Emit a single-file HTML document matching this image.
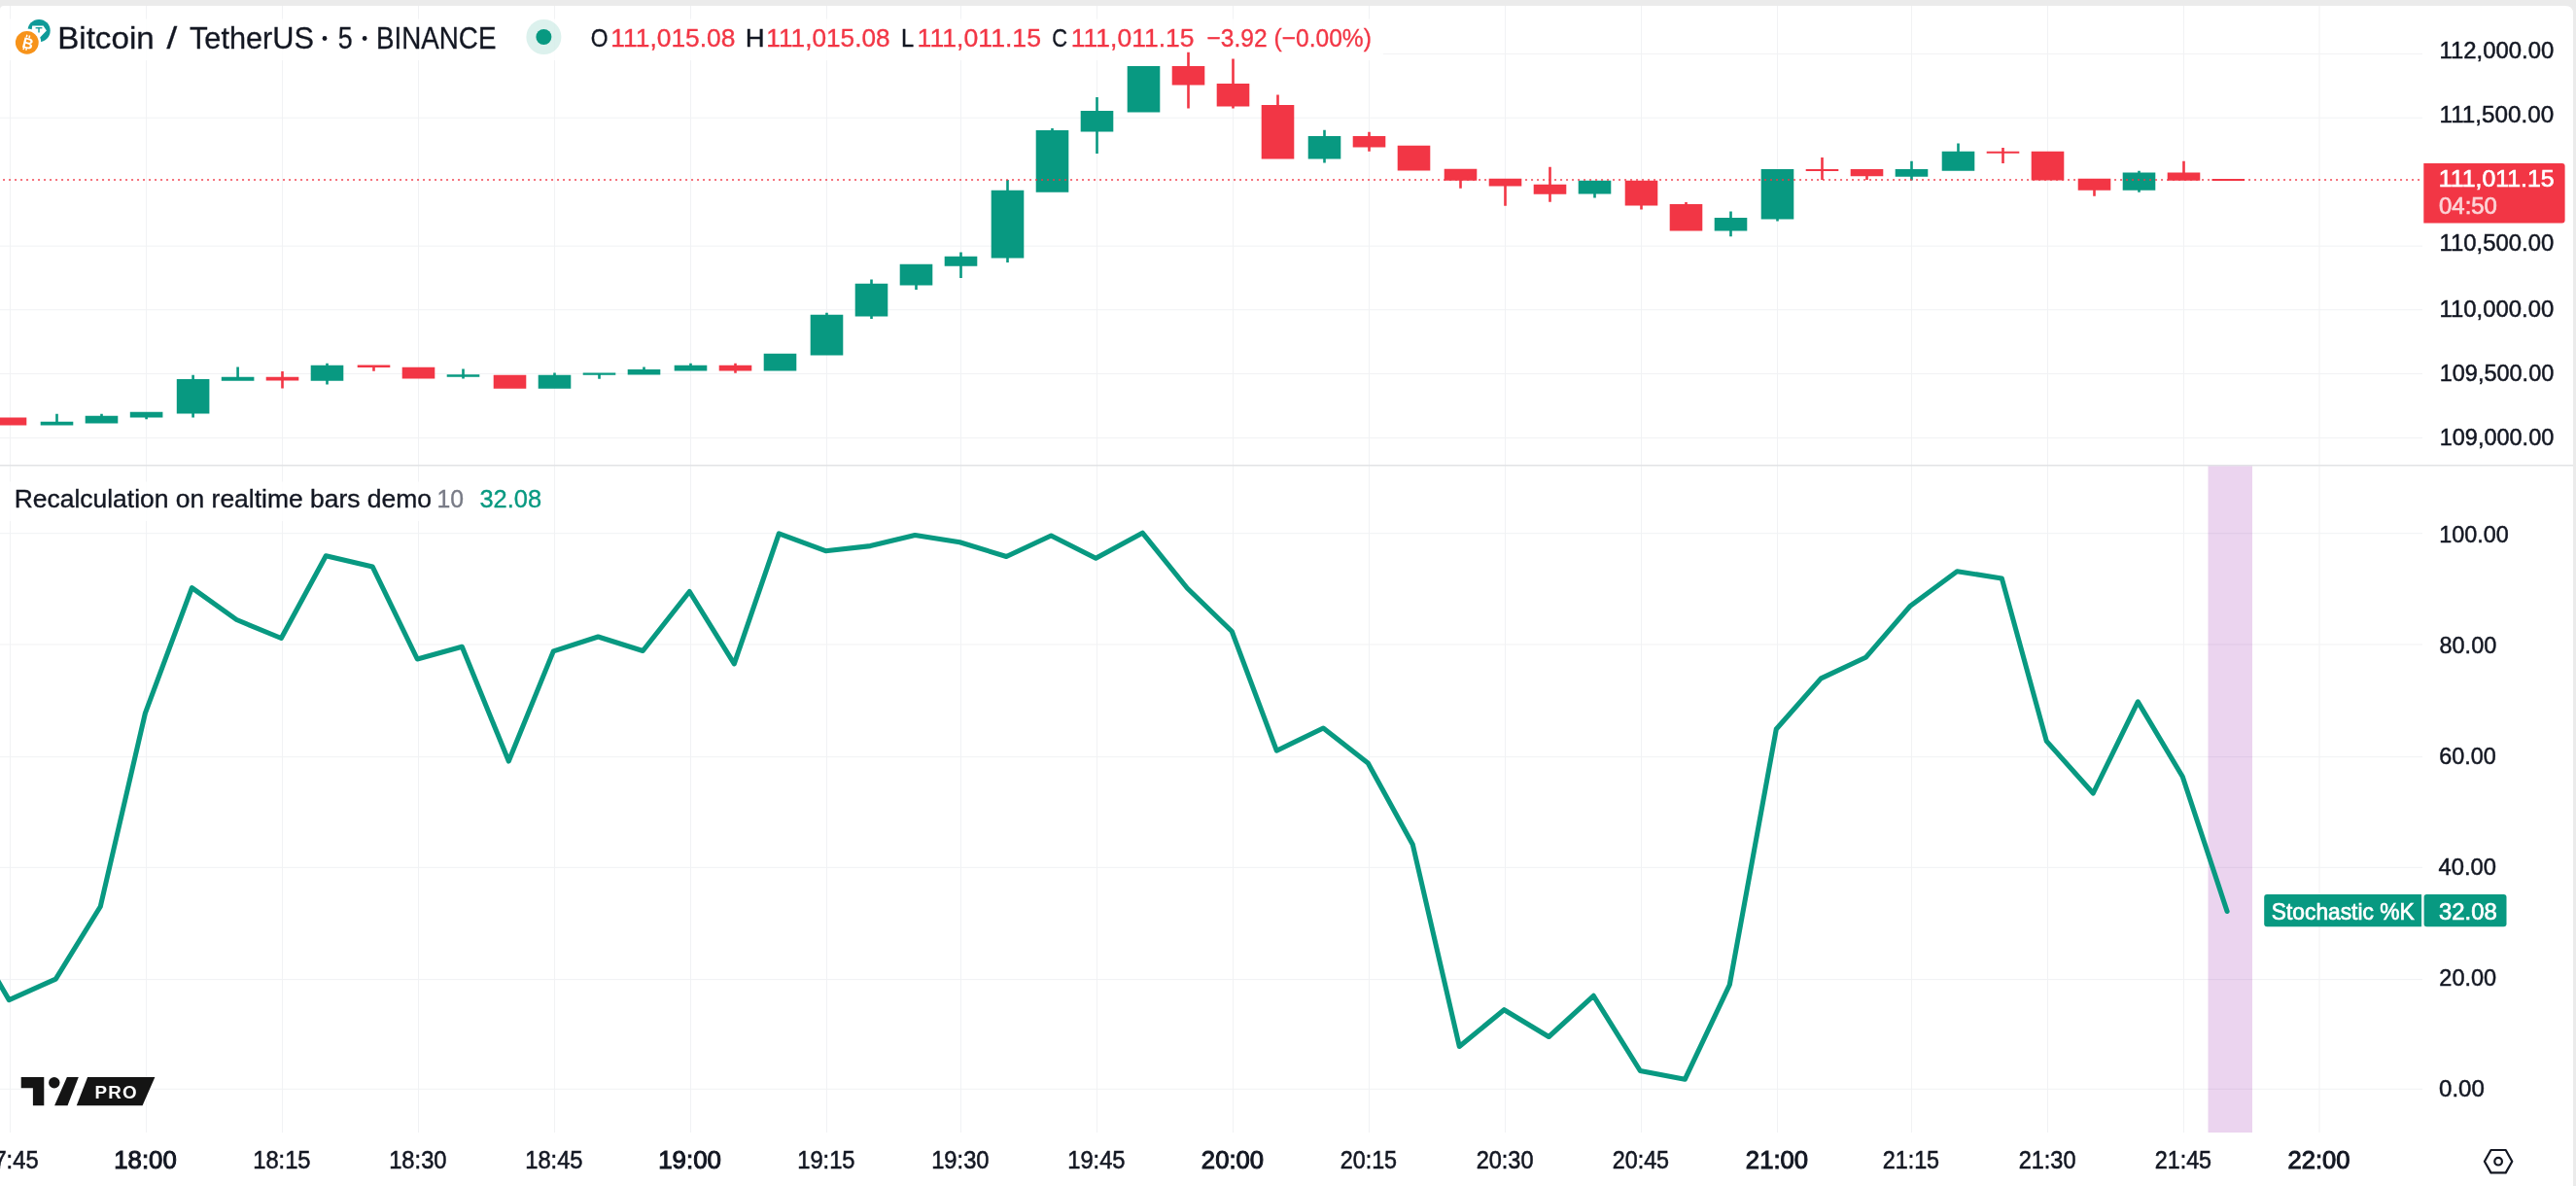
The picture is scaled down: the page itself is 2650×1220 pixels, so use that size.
<!DOCTYPE html>
<html><head><meta charset="utf-8"><title>BTCUSDT chart</title><style>
html,body{margin:0;padding:0;width:2650px;height:1220px;overflow:hidden;background:#EBEBEB;font-family:"Liberation Sans",sans-serif}
</style></head><body>
<svg width="2650" height="1220" viewBox="0 0 2650 1220" style="position:absolute;left:0;top:0;display:block;will-change:transform"><rect x="0" y="0" width="2650" height="1220" fill="#EBEBEB"/><path d="M0,10 Q0,6 4,6 L2639,6 Q2647,6 2647,14 L2647,1220 L0,1220 Z" fill="#FFFFFF"/><rect x="10.00" y="6" width="1" height="1159" fill="#F1F2F4"/><rect x="150.10" y="6" width="1" height="1159" fill="#F1F2F4"/><rect x="290.00" y="6" width="1" height="1159" fill="#F1F2F4"/><rect x="430.00" y="6" width="1" height="1159" fill="#F1F2F4"/><rect x="570.00" y="6" width="1" height="1159" fill="#F1F2F4"/><rect x="710.00" y="6" width="1" height="1159" fill="#F1F2F4"/><rect x="850.00" y="6" width="1" height="1159" fill="#F1F2F4"/><rect x="988.00" y="6" width="1" height="1159" fill="#F1F2F4"/><rect x="1128.00" y="6" width="1" height="1159" fill="#F1F2F4"/><rect x="1268.00" y="6" width="1" height="1159" fill="#F1F2F4"/><rect x="1408.00" y="6" width="1" height="1159" fill="#F1F2F4"/><rect x="1548.00" y="6" width="1" height="1159" fill="#F1F2F4"/><rect x="1688.00" y="6" width="1" height="1159" fill="#F1F2F4"/><rect x="1828.00" y="6" width="1" height="1159" fill="#F1F2F4"/><rect x="1966.00" y="6" width="1" height="1159" fill="#F1F2F4"/><rect x="2106.00" y="6" width="1" height="1159" fill="#F1F2F4"/><rect x="2246.00" y="6" width="1" height="1159" fill="#F1F2F4"/><rect x="2385.50" y="6" width="1" height="1159" fill="#F1F2F4"/><rect x="1420" y="54.90" width="1072" height="1" fill="#F1F2F4"/><rect x="0" y="120.70" width="2492" height="1" fill="#F1F2F4"/><rect x="0" y="252.60" width="2492" height="1" fill="#F1F2F4"/><rect x="0" y="318.20" width="2492" height="1" fill="#F1F2F4"/><rect x="0" y="384.00" width="2492" height="1" fill="#F1F2F4"/><rect x="0" y="449.90" width="2492" height="1" fill="#F1F2F4"/><rect x="0" y="548.20" width="2492" height="1" fill="#F1F2F4"/><rect x="0" y="662.50" width="2492" height="1" fill="#F1F2F4"/><rect x="0" y="778.10" width="2492" height="1" fill="#F1F2F4"/><rect x="0" y="891.80" width="2492" height="1" fill="#F1F2F4"/><rect x="0" y="1007.10" width="2492" height="1" fill="#F1F2F4"/><rect x="0" y="1119.80" width="2492" height="1" fill="#F1F2F4"/><rect x="0" y="19.5" width="1423" height="42.5" fill="#FFFFFF" fill-opacity="0.85"/><rect x="0" y="495.5" width="570" height="40.5" fill="#FFFFFF" fill-opacity="0.85"/><rect x="0" y="478" width="2647" height="1.5" fill="#E2E3E6"/><rect x="2271.5" y="479.5" width="45.5" height="685.5" fill="#9C27B0" fill-opacity="0.2"/><path d="M-6.30,429.50h33.6v8.00h-33.6Z" fill="#F23645"/><path d="M41.70,433.75h33.6v3.75h-33.6ZM57.20,425.75h2.6V433.75h-2.6Z" fill="#089981"/><path d="M87.70,427.75h33.6v7.75h-33.6ZM103.20,425.75h2.6V427.75h-2.6Z" fill="#089981"/><path d="M133.80,423.75h33.6v5.75h-33.6ZM149.30,429.50h2.6V431.25h-2.6Z" fill="#089981"/><path d="M181.80,390.00h33.6v35.50h-33.6ZM197.30,385.75h2.6V390.00h-2.6ZM197.30,425.50h2.6V429.50h-2.6Z" fill="#089981"/><path d="M227.80,387.75h33.6v4.00h-33.6ZM243.30,377.50h2.6V387.75h-2.6Z" fill="#089981"/><path d="M273.70,387.75h33.6v3.75h-33.6ZM289.20,382.00h2.6V387.75h-2.6ZM289.20,391.50h2.6V399.50h-2.6Z" fill="#F23645"/><path d="M319.70,375.75h33.6v16.00h-33.6ZM335.20,373.75h2.6V375.75h-2.6ZM335.20,391.75h2.6V395.50h-2.6Z" fill="#089981"/><path d="M367.70,375.50h33.6v2.50h-33.6ZM383.20,378.00h2.6V381.75h-2.6Z" fill="#F23645"/><path d="M413.70,377.75h33.6v11.75h-33.6Z" fill="#F23645"/><path d="M459.70,385.25h33.6v2.50h-33.6ZM475.20,379.50h2.6V385.25h-2.6ZM475.20,387.75h2.6V389.50h-2.6Z" fill="#089981"/><path d="M507.70,385.75h33.6v14.00h-33.6Z" fill="#F23645"/><path d="M553.70,385.75h33.6v14.00h-33.6ZM569.20,383.50h2.6V385.75h-2.6Z" fill="#089981"/><path d="M599.70,383.60h33.6v2.20h-33.6ZM615.20,385.80h2.6V389.70h-2.6Z" fill="#089981"/><path d="M645.70,380.00h33.6v5.50h-33.6ZM661.20,377.50h2.6V380.00h-2.6Z" fill="#089981"/><path d="M693.70,375.75h33.6v5.75h-33.6ZM709.20,373.75h2.6V375.75h-2.6Z" fill="#089981"/><path d="M739.70,375.75h33.6v5.75h-33.6ZM755.20,373.75h2.6V375.75h-2.6ZM755.20,381.50h2.6V383.75h-2.6Z" fill="#F23645"/><path d="M785.70,363.75h33.6v17.75h-33.6Z" fill="#089981"/><path d="M833.70,323.75h33.6v41.75h-33.6ZM849.20,321.75h2.6V323.75h-2.6Z" fill="#089981"/><path d="M879.70,291.75h33.6v33.75h-33.6ZM895.20,287.50h2.6V291.75h-2.6ZM895.20,325.50h2.6V328.00h-2.6Z" fill="#089981"/><path d="M925.70,271.75h33.6v21.75h-33.6ZM941.20,293.50h2.6V298.00h-2.6Z" fill="#089981"/><path d="M971.70,263.75h33.6v10.00h-33.6ZM987.20,259.50h2.6V263.75h-2.6ZM987.20,273.75h2.6V286.00h-2.6Z" fill="#089981"/><path d="M1019.70,195.75h33.6v69.75h-33.6ZM1035.20,185.00h2.6V195.75h-2.6ZM1035.20,265.50h2.6V270.00h-2.6Z" fill="#089981"/><path d="M1065.70,134.00h33.6v63.75h-33.6ZM1081.20,132.00h2.6V134.00h-2.6Z" fill="#089981"/><path d="M1111.70,114.00h33.6v21.50h-33.6ZM1127.20,100.00h2.6V114.00h-2.6ZM1127.20,135.50h2.6V158.00h-2.6Z" fill="#089981"/><path d="M1159.70,68.00h33.6v47.50h-33.6Z" fill="#089981"/><path d="M1205.70,68.00h33.6v19.50h-33.6ZM1221.20,53.75h2.6V68.00h-2.6ZM1221.20,87.50h2.6V111.50h-2.6Z" fill="#F23645"/><path d="M1251.70,86.00h33.6v23.50h-33.6ZM1267.20,60.50h2.6V86.00h-2.6ZM1267.20,109.50h2.6V111.50h-2.6Z" fill="#F23645"/><path d="M1297.70,108.00h33.6v55.50h-33.6ZM1313.20,97.50h2.6V108.00h-2.6Z" fill="#F23645"/><path d="M1345.70,140.00h33.6v23.50h-33.6ZM1361.20,133.75h2.6V140.00h-2.6ZM1361.20,163.50h2.6V167.50h-2.6Z" fill="#089981"/><path d="M1391.70,140.00h33.6v11.50h-33.6ZM1407.20,135.75h2.6V140.00h-2.6ZM1407.20,151.50h2.6V155.75h-2.6Z" fill="#F23645"/><path d="M1437.70,149.75h33.6v25.75h-33.6Z" fill="#F23645"/><path d="M1485.70,173.75h33.6v12.00h-33.6ZM1501.20,185.75h2.6V193.75h-2.6Z" fill="#F23645"/><path d="M1531.70,183.75h33.6v7.75h-33.6ZM1547.20,191.50h2.6V211.75h-2.6Z" fill="#F23645"/><path d="M1577.70,189.75h33.6v10.00h-33.6ZM1593.20,171.75h2.6V189.75h-2.6ZM1593.20,199.75h2.6V207.75h-2.6Z" fill="#F23645"/><path d="M1623.70,185.75h33.6v13.75h-33.6ZM1639.20,199.50h2.6V203.50h-2.6Z" fill="#089981"/><path d="M1671.70,185.75h33.6v25.75h-33.6ZM1687.20,211.50h2.6V215.50h-2.6Z" fill="#F23645"/><path d="M1717.70,210.00h33.6v27.50h-33.6ZM1733.20,208.00h2.6V210.00h-2.6Z" fill="#F23645"/><path d="M1763.70,224.00h33.6v13.50h-33.6ZM1779.20,217.50h2.6V224.00h-2.6ZM1779.20,237.50h2.6V243.25h-2.6Z" fill="#089981"/><path d="M1811.70,174.00h33.6v51.50h-33.6ZM1827.20,225.50h2.6V227.50h-2.6Z" fill="#089981"/><path d="M1857.70,174.00h33.6v2.00h-33.6ZM1873.20,162.00h2.6V174.00h-2.6ZM1873.20,176.00h2.6V185.00h-2.6Z" fill="#F23645"/><path d="M1903.70,174.00h33.6v7.25h-33.6ZM1919.20,181.25h2.6V185.00h-2.6Z" fill="#F23645"/><path d="M1949.70,174.00h33.6v7.75h-33.6ZM1965.20,165.75h2.6V174.00h-2.6ZM1965.20,181.75h2.6V185.50h-2.6Z" fill="#089981"/><path d="M1997.70,155.75h33.6v20.00h-33.6ZM2013.20,147.50h2.6V155.75h-2.6Z" fill="#089981"/><path d="M2043.70,155.75h33.6v2.00h-33.6ZM2059.20,152.00h2.6V155.75h-2.6ZM2059.20,157.75h2.6V168.00h-2.6Z" fill="#F23645"/><path d="M2089.70,155.75h33.6v29.75h-33.6Z" fill="#F23645"/><path d="M2137.70,183.75h33.6v12.00h-33.6ZM2153.20,195.75h2.6V201.75h-2.6Z" fill="#F23645"/><path d="M2183.70,177.50h33.6v18.25h-33.6ZM2199.20,175.75h2.6V177.50h-2.6ZM2199.20,195.75h2.6V197.75h-2.6Z" fill="#089981"/><path d="M2229.70,177.50h33.6v8.25h-33.6ZM2245.20,165.70h2.6V177.50h-2.6Z" fill="#F23645"/><path d="M2275.50,184.00h33.6v2.00h-33.6Z" fill="#F23645"/><line x1="0" y1="185" x2="2492" y2="185" stroke="#F23645" stroke-opacity="0.7" stroke-width="2" stroke-dasharray="2 4" stroke-dashoffset="2.95"/><polyline points="-37.3,948.6 9.3,1028.6 57.3,1007.1 103.3,932.5 149.4,733.6 197.4,604.6 243.4,637.5 289.3,656.5 335.3,571.7 383.3,583.1 429.3,678.0 475.3,665.3 523.3,783.0 569.3,669.9 615.3,655.0 661.3,669.5 709.3,608.5 755.3,682.8 801.3,548.9 849.3,566.7 895.3,561.6 941.3,550.5 987.3,557.8 1035.3,572.5 1081.3,551.0 1127.3,574.3 1175.3,548.2 1221.3,605.0 1267.3,649.5 1313.3,772.2 1361.3,749.0 1407.3,784.9 1453.3,868.8 1501.3,1076.5 1547.3,1038.7 1593.3,1066.5 1639.3,1024.3 1687.3,1101.5 1733.3,1110.3 1779.3,1013.0 1827.3,750.0 1873.3,697.9 1919.3,676.3 1965.3,623.2 2013.3,587.8 2059.3,594.9 2105.3,762.4 2153.3,816.0 2199.3,721.9 2245.3,799.0 2291.1,937.5" fill="none" stroke="#089981" stroke-width="5.1" stroke-linejoin="round" stroke-linecap="round"/><circle cx="40.1" cy="31.5" r="11.6" fill="#0E9A98"/><path d="M33.2,26.6 H44.6 L47.9,31.4 L40.2,39.5 L32.5,31.4 Z" fill="#FFFFFF"/><rect x="36.6" y="28.1" width="6.8" height="1.3" fill="#0E9A98"/><rect x="39.3" y="28.5" width="1.4" height="5" fill="#0E9A98"/><circle cx="27.8" cy="43.8" r="14.4" fill="#FFFFFF"/><circle cx="27.8" cy="43.8" r="11.9" fill="#F7931A"/><g transform="rotate(14 27.8 43.8)"><text x="23.3" y="49.8" font-family="Liberation Sans, sans-serif" font-size="15.5" font-weight="bold" fill="#FFFFFF">B</text><rect x="25.2" y="36.0" width="1.5" height="2.6" fill="#FFFFFF"/><rect x="28.0" y="36.0" width="1.5" height="2.6" fill="#FFFFFF"/><rect x="25.2" y="49.2" width="1.5" height="2.6" fill="#FFFFFF"/><rect x="28.0" y="49.2" width="1.5" height="2.6" fill="#FFFFFF"/></g><circle cx="559.4" cy="38" r="18" fill="#089981" fill-opacity="0.14"/><circle cx="559.4" cy="38" r="8" fill="#089981"/><circle cx="334.0" cy="39.5" r="2.4" fill="#131722"/><circle cx="375.15" cy="39.5" r="2.4" fill="#131722"/><path d="M2493.3,168 H2635.6 Q2638.6,168 2638.6,171 V226.5 Q2638.6,229.5 2635.6,229.5 H2493.3 Z" fill="#F23645"/><rect x="2329.2" y="919.9" width="164" height="33.4" rx="3" fill="#089981"/><rect x="2493.5" y="919.9" width="85" height="33.4" rx="3" fill="#089981"/><rect x="2491" y="919.9" width="2.5" height="33.4" fill="#E6F4F1"/><text x="59.15" y="50" font-family="Liberation Sans, sans-serif" font-size="31.5" font-weight="normal" fill="#131722" stroke="#131722" stroke-width="0.3" textLength="99.57" lengthAdjust="spacingAndGlyphs">Bitcoin</text><text x="171.62" y="50" font-family="Liberation Sans, sans-serif" font-size="31.5" font-weight="normal" fill="#131722" stroke="#131722" stroke-width="0.3" textLength="10.72" lengthAdjust="spacingAndGlyphs">/</text><text x="195.00" y="50" font-family="Liberation Sans, sans-serif" font-size="31.5" font-weight="normal" fill="#131722" stroke="#131722" stroke-width="0.3" textLength="127.94" lengthAdjust="spacingAndGlyphs">TetherUS</text><text x="347.79" y="50" font-family="Liberation Sans, sans-serif" font-size="31.5" font-weight="normal" fill="#131722" stroke="#131722" stroke-width="0.3" textLength="14.93" lengthAdjust="spacingAndGlyphs">5</text><text x="387.06" y="50" font-family="Liberation Sans, sans-serif" font-size="31.5" font-weight="normal" fill="#131722" stroke="#131722" stroke-width="0.3" textLength="123.37" lengthAdjust="spacingAndGlyphs">BINANCE</text><text x="607.81" y="47.5" font-family="Liberation Sans, sans-serif" font-size="26.5" font-weight="normal" fill="#131722" stroke="#131722" stroke-width="0.35" textLength="17.74" lengthAdjust="spacingAndGlyphs">O</text><text x="628.34" y="47.5" font-family="Liberation Sans, sans-serif" font-size="26.5" font-weight="normal" fill="#F23645" stroke="#F23645" stroke-width="0.35" textLength="128.10" lengthAdjust="spacingAndGlyphs">111,015.08</text><text x="766.83" y="47.5" font-family="Liberation Sans, sans-serif" font-size="26.5" font-weight="normal" fill="#131722" stroke="#131722" stroke-width="0.35" textLength="19.95" lengthAdjust="spacingAndGlyphs">H</text><text x="788.36" y="47.5" font-family="Liberation Sans, sans-serif" font-size="26.5" font-weight="normal" fill="#F23645" stroke="#F23645" stroke-width="0.35" textLength="127.19" lengthAdjust="spacingAndGlyphs">111,015.08</text><text x="927.06" y="47.5" font-family="Liberation Sans, sans-serif" font-size="26.5" font-weight="normal" fill="#131722" stroke="#131722" stroke-width="0.35" textLength="13.18" lengthAdjust="spacingAndGlyphs">L</text><text x="943.58" y="47.5" font-family="Liberation Sans, sans-serif" font-size="26.5" font-weight="normal" fill="#F23645" stroke="#F23645" stroke-width="0.35" textLength="127.41" lengthAdjust="spacingAndGlyphs">111,011.15</text><text x="1082.32" y="47.5" font-family="Liberation Sans, sans-serif" font-size="26.5" font-weight="normal" fill="#131722" stroke="#131722" stroke-width="0.35" textLength="15.79" lengthAdjust="spacingAndGlyphs">C</text><text x="1101.85" y="47.5" font-family="Liberation Sans, sans-serif" font-size="26.5" font-weight="normal" fill="#F23645" stroke="#F23645" stroke-width="0.35" textLength="126.62" lengthAdjust="spacingAndGlyphs">111,011.15</text><text x="1241.53" y="47.5" font-family="Liberation Sans, sans-serif" font-size="26.5" font-weight="normal" fill="#F23645" stroke="#F23645" stroke-width="0.35" textLength="169.32" lengthAdjust="spacingAndGlyphs">−3.92 (−0.00%)</text><text x="2509.55" y="59.9" font-family="Liberation Sans, sans-serif" font-size="24.8" font-weight="normal" fill="#131722" stroke="#131722" stroke-width="0.5" textLength="117.66" lengthAdjust="spacingAndGlyphs">112,000.00</text><text x="2509.47" y="125.80000000000001" font-family="Liberation Sans, sans-serif" font-size="24.8" font-weight="normal" fill="#131722" stroke="#131722" stroke-width="0.5" textLength="117.71" lengthAdjust="spacingAndGlyphs">111,500.00</text><text x="2509.55" y="257.9" font-family="Liberation Sans, sans-serif" font-size="24.8" font-weight="normal" fill="#131722" stroke="#131722" stroke-width="0.5" textLength="117.66" lengthAdjust="spacingAndGlyphs">110,500.00</text><text x="2509.55" y="325.59999999999997" font-family="Liberation Sans, sans-serif" font-size="24.8" font-weight="normal" fill="#131722" stroke="#131722" stroke-width="0.5" textLength="117.66" lengthAdjust="spacingAndGlyphs">110,000.00</text><text x="2509.75" y="391.7" font-family="Liberation Sans, sans-serif" font-size="24.8" font-weight="normal" fill="#131722" stroke="#131722" stroke-width="0.5" textLength="117.51" lengthAdjust="spacingAndGlyphs">109,500.00</text><text x="2509.75" y="457.59999999999997" font-family="Liberation Sans, sans-serif" font-size="24.8" font-weight="normal" fill="#131722" stroke="#131722" stroke-width="0.5" textLength="117.51" lengthAdjust="spacingAndGlyphs">109,000.00</text><text x="2508.75" y="191.7" font-family="Liberation Sans, sans-serif" font-size="24.8" font-weight="normal" fill="#FFFFFF" stroke="#FFFFFF" stroke-width="0.7" textLength="118.82" lengthAdjust="spacingAndGlyphs">111,011.15</text><g opacity="0.78"><text x="2509.08" y="219.7" font-family="Liberation Sans, sans-serif" font-size="24.8" font-weight="normal" fill="#FFFFFF" stroke="#FFFFFF" stroke-width="0.7" textLength="59.75" lengthAdjust="spacingAndGlyphs">04:50</text></g><text x="14.66" y="522" font-family="Liberation Sans, sans-serif" font-size="25.5" font-weight="normal" fill="#131722" stroke="#131722" stroke-width="0.35" textLength="429.32" lengthAdjust="spacingAndGlyphs">Recalculation on realtime bars demo</text><text x="449.47" y="522" font-family="Liberation Sans, sans-serif" font-size="25.5" font-weight="normal" fill="#787B86" stroke="#787B86" stroke-width="0.35" textLength="27.51" lengthAdjust="spacingAndGlyphs">10</text><text x="493.47" y="522" font-family="Liberation Sans, sans-serif" font-size="25.5" font-weight="normal" fill="#089981" stroke="#089981" stroke-width="0.35" textLength="63.60" lengthAdjust="spacingAndGlyphs">32.08</text><text x="2509.18" y="557.6999999999999" font-family="Liberation Sans, sans-serif" font-size="24.8" font-weight="normal" fill="#131722" stroke="#131722" stroke-width="0.5" textLength="71.45" lengthAdjust="spacingAndGlyphs">100.00</text><text x="2509.55" y="671.5" font-family="Liberation Sans, sans-serif" font-size="24.8" font-weight="normal" fill="#131722" stroke="#131722" stroke-width="0.5" textLength="58.67" lengthAdjust="spacingAndGlyphs">80.00</text><text x="2509.30" y="785.8" font-family="Liberation Sans, sans-serif" font-size="24.8" font-weight="normal" fill="#131722" stroke="#131722" stroke-width="0.5" textLength="58.55" lengthAdjust="spacingAndGlyphs">60.00</text><text x="2508.61" y="900.1999999999999" font-family="Liberation Sans, sans-serif" font-size="24.8" font-weight="normal" fill="#131722" stroke="#131722" stroke-width="0.5" textLength="59.42" lengthAdjust="spacingAndGlyphs">40.00</text><text x="2509.36" y="1014.0999999999999" font-family="Liberation Sans, sans-serif" font-size="24.8" font-weight="normal" fill="#131722" stroke="#131722" stroke-width="0.5" textLength="58.83" lengthAdjust="spacingAndGlyphs">20.00</text><text x="2509.03" y="1127.8" font-family="Liberation Sans, sans-serif" font-size="24.8" font-weight="normal" fill="#131722" stroke="#131722" stroke-width="0.5" textLength="46.84" lengthAdjust="spacingAndGlyphs">0.00</text><text x="2336.81" y="945.5" font-family="Liberation Sans, sans-serif" font-size="24" font-weight="normal" fill="#FFFFFF" stroke="#FFFFFF" stroke-width="0.7" textLength="146.88" lengthAdjust="spacingAndGlyphs">Stochastic %K</text><text x="2509.00" y="945.5" font-family="Liberation Sans, sans-serif" font-size="24" font-weight="normal" fill="#FFFFFF" stroke="#FFFFFF" stroke-width="0.7" textLength="59.79" lengthAdjust="spacingAndGlyphs">32.08</text><text x="117.31" y="1201.8" font-family="Liberation Sans, sans-serif" font-size="25.5" font-weight="normal" fill="#131722" stroke="#131722" stroke-width="1.0" textLength="64.39" lengthAdjust="spacingAndGlyphs">18:00</text><text x="260.20" y="1201.8" font-family="Liberation Sans, sans-serif" font-size="25.5" font-weight="normal" fill="#131722" stroke="#131722" stroke-width="0.55" textLength="59.38" lengthAdjust="spacingAndGlyphs">18:15</text><text x="400.20" y="1201.8" font-family="Liberation Sans, sans-serif" font-size="25.5" font-weight="normal" fill="#131722" stroke="#131722" stroke-width="0.55" textLength="59.33" lengthAdjust="spacingAndGlyphs">18:30</text><text x="540.20" y="1201.8" font-family="Liberation Sans, sans-serif" font-size="25.5" font-weight="normal" fill="#131722" stroke="#131722" stroke-width="0.55" textLength="59.38" lengthAdjust="spacingAndGlyphs">18:45</text><text x="677.22" y="1201.8" font-family="Liberation Sans, sans-serif" font-size="25.5" font-weight="normal" fill="#131722" stroke="#131722" stroke-width="1.0" textLength="64.78" lengthAdjust="spacingAndGlyphs">19:00</text><text x="820.20" y="1201.8" font-family="Liberation Sans, sans-serif" font-size="25.5" font-weight="normal" fill="#131722" stroke="#131722" stroke-width="0.55" textLength="59.38" lengthAdjust="spacingAndGlyphs">19:15</text><text x="958.20" y="1201.8" font-family="Liberation Sans, sans-serif" font-size="25.5" font-weight="normal" fill="#131722" stroke="#131722" stroke-width="0.55" textLength="59.33" lengthAdjust="spacingAndGlyphs">19:30</text><text x="1098.20" y="1201.8" font-family="Liberation Sans, sans-serif" font-size="25.5" font-weight="normal" fill="#131722" stroke="#131722" stroke-width="0.55" textLength="59.38" lengthAdjust="spacingAndGlyphs">19:45</text><text x="1235.89" y="1201.8" font-family="Liberation Sans, sans-serif" font-size="25.5" font-weight="normal" fill="#131722" stroke="#131722" stroke-width="1.0" textLength="64.15" lengthAdjust="spacingAndGlyphs">20:00</text><text x="1378.70" y="1201.8" font-family="Liberation Sans, sans-serif" font-size="25.5" font-weight="normal" fill="#131722" stroke="#131722" stroke-width="0.55" textLength="58.42" lengthAdjust="spacingAndGlyphs">20:15</text><text x="1518.70" y="1201.8" font-family="Liberation Sans, sans-serif" font-size="25.5" font-weight="normal" fill="#131722" stroke="#131722" stroke-width="0.55" textLength="58.84" lengthAdjust="spacingAndGlyphs">20:30</text><text x="1658.70" y="1201.8" font-family="Liberation Sans, sans-serif" font-size="25.5" font-weight="normal" fill="#131722" stroke="#131722" stroke-width="0.55" textLength="58.42" lengthAdjust="spacingAndGlyphs">20:45</text><text x="1795.89" y="1201.8" font-family="Liberation Sans, sans-serif" font-size="25.5" font-weight="normal" fill="#131722" stroke="#131722" stroke-width="1.0" textLength="64.15" lengthAdjust="spacingAndGlyphs">21:00</text><text x="1936.70" y="1201.8" font-family="Liberation Sans, sans-serif" font-size="25.5" font-weight="normal" fill="#131722" stroke="#131722" stroke-width="0.55" textLength="58.42" lengthAdjust="spacingAndGlyphs">21:15</text><text x="2076.70" y="1201.8" font-family="Liberation Sans, sans-serif" font-size="25.5" font-weight="normal" fill="#131722" stroke="#131722" stroke-width="0.55" textLength="58.84" lengthAdjust="spacingAndGlyphs">21:30</text><text x="2216.70" y="1201.8" font-family="Liberation Sans, sans-serif" font-size="25.5" font-weight="normal" fill="#131722" stroke="#131722" stroke-width="0.55" textLength="58.42" lengthAdjust="spacingAndGlyphs">21:45</text><text x="2353.47" y="1201.8" font-family="Liberation Sans, sans-serif" font-size="25.5" font-weight="normal" fill="#131722" stroke="#131722" stroke-width="1.0" textLength="63.94" lengthAdjust="spacingAndGlyphs">22:00</text><text x="-19.80" y="1201.8" font-family="Liberation Sans, sans-serif" font-size="25.5" fill="#131722" stroke="#131722" stroke-width="0.55" textLength="59.38" lengthAdjust="spacingAndGlyphs">17:45</text><path d="M21.7,1107.9 H45.3 V1137.3 H33.9 V1119.2 H21.7 Z" fill="#141414"/><circle cx="55.8" cy="1113.7" r="5.7" fill="#141414"/><path d="M68.9,1107.9 H80.8 L69.5,1137.3 H56.1 Z" fill="#141414"/><path d="M90.1,1107.9 H159.4 L146.6,1137.3 H78.8 Z" fill="#141414"/><text x="97.6" y="1129.7" font-family="Liberation Sans, sans-serif" font-size="18.8" font-weight="bold" fill="#FFFFFF" textLength="43" lengthAdjust="spacing">PRO</text><path d="M2562.5,1183 H2577.7 L2584.3,1194.7 L2577.7,1206.4 H2562.5 L2555.9,1194.7 Z" fill="none" stroke="#131722" stroke-width="2.2" stroke-linejoin="round"/><circle cx="2570.1" cy="1194.7" r="3.8" fill="none" stroke="#131722" stroke-width="2.2"/></svg>
</body></html>
